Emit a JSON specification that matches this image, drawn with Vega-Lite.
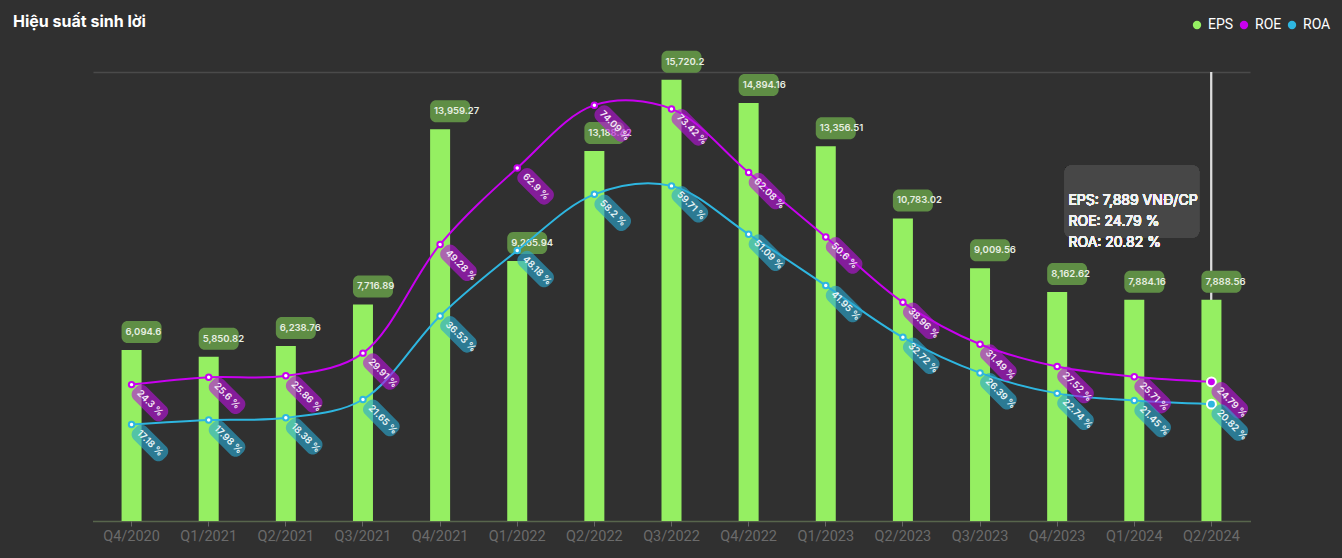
{
  "$schema": "https://vega.github.io/schema/vega-lite/v6.json",
  "width": 1157,
  "height": 449,
  "autosize": {"type": "none"},
  "padding": {"left": 93, "top": 72, "right": 92, "bottom": 37},
  "background": "#303030",
  "title": {
    "text": "Hiệu suất sinh lời",
    "anchor": "start",
    "frame": "group",
    "dx": -80,
    "offset": -20,
    "baseline": "middle",
    "font": "Inter",
    "fontSize": 16,
    "fontWeight": "bold",
    "color": "#ffffff"
  },
  "config": {
    "view": {"stroke": null},
    "font": "Roboto"
  },
  "data": {
    "values": [
      {"q": "Q4/2020", "EPS": 6094.6, "ROE": 24.3, "ROA": 17.18},
      {"q": "Q1/2021", "EPS": 5850.82, "ROE": 25.6, "ROA": 17.98},
      {"q": "Q2/2021", "EPS": 6238.76, "ROE": 25.86, "ROA": 18.38},
      {"q": "Q3/2021", "EPS": 7716.89, "ROE": 29.91, "ROA": 21.65},
      {"q": "Q4/2021", "EPS": 13959.27, "ROE": 49.28, "ROA": 36.53},
      {"q": "Q1/2022", "EPS": 9265.94, "ROE": 62.9, "ROA": 48.18},
      {"q": "Q2/2022", "EPS": 13188.42, "ROE": 74.09, "ROA": 58.2},
      {"q": "Q3/2022", "EPS": 15720.2, "ROE": 73.42, "ROA": 59.71},
      {"q": "Q4/2022", "EPS": 14894.16, "ROE": 62.08, "ROA": 51.09},
      {"q": "Q1/2023", "EPS": 13356.51, "ROE": 50.6, "ROA": 41.95},
      {"q": "Q2/2023", "EPS": 10783.02, "ROE": 38.96, "ROA": 32.72},
      {"q": "Q3/2023", "EPS": 9009.56, "ROE": 31.49, "ROA": 26.39},
      {"q": "Q4/2023", "EPS": 8162.62, "ROE": 27.52, "ROA": 22.74},
      {"q": "Q1/2024", "EPS": 7884.16, "ROE": 25.71, "ROA": 21.45},
      {"q": "Q2/2024", "EPS": 7888.56, "ROE": 24.79, "ROA": 20.82}
    ]
  },
  "encoding": {
    "x": {
      "field": "q",
      "type": "nominal",
      "sort": null,
      "scale": {"domain": ["Q4/2020", "Q1/2021", "Q2/2021", "Q3/2021", "Q4/2021", "Q1/2022", "Q2/2022", "Q3/2022", "Q4/2022", "Q1/2023", "Q2/2023", "Q3/2023", "Q4/2023", "Q1/2024", "Q2/2024"], "paddingInner": 0, "paddingOuter": 0},
      "axis": {
        "title": null,
        "labelAngle": 0,
        "labelColor": "#6b6b6b",
        "labelFontSize": 14.5,
        "labelFont": "Roboto",
        "labelPadding": 3,
        "tickColor": "#666666",
        "tickSize": 5,
        "domainColor": "#7e9a68",
        "domainDash": [1, 1],
        "domainWidth": 1.5
      }
    }
  },
  "layer": [
    {
      "mark": {"type": "rule", "color": "#dddddd", "strokeWidth": 1.2},
      "encoding": {"x": {"datum": "Q2/2024"}}
    },
    {
      "mark": {"type": "bar", "width": 20},
      "encoding": {
        "y": {
          "field": "EPS",
          "type": "quantitative",
          "scale": {"domain": [0, 16000], "nice": false, "zero": true},
          "axis": {"values": [16000], "grid": true, "gridColor": "#4a4a4a", "gridWidth": 1.5, "labels": false, "ticks": false, "domain": false, "title": null}
        },
        "color": {
          "datum": "EPS",
          "scale": {"domain": ["EPS", "ROE", "ROA"], "range": ["#95ef62", "#c800f0", "#2eb6e0"]},
          "legend": {
            "title": null,
            "orient": "none",
            "legendX": 1097,
            "legendY": -54,
            "direction": "horizontal",
            "symbolType": "circle",
            "symbolSize": 70,
            "labelColor": "#ffffff",
            "labelFontSize": 14,
            "labelFont": "Roboto",
            "labelOffset": 4,
            "columnPadding": 3,
            "symbolStrokeWidth": 0,
            "encode": {"symbols": {"update": {"fill": {"scale": "color", "field": "value"}, "fillOpacity": {"value": 1}, "strokeWidth": {"value": 0}}}}
          }
        }
      }
    },
    {
      "mark": {"type": "point", "shape": "M -4 -29 L 24 -29 A 6 6 0 0 1 30 -23 L 30 -13 A 6 6 0 0 1 24 -7 L -4 -7 A 6 6 0 0 1 -10 -13 L -10 -23 A 6 6 0 0 1 -4 -29 Z", "size": 4, "filled": true, "color": "#5f8e45", "opacity": 1},
      "encoding": {
        "y": {"field": "EPS", "type": "quantitative", "scale": {"domain": [0, 16000], "nice": false}, "axis": null}
      }
    },
    {
      "mark": {"type": "text", "align": "left", "baseline": "middle", "dx": -6, "dy": -18, "fontSize": 9.5, "fontWeight": 600, "color": "#e8efe2", "font": "Inter"},
      "encoding": {
        "y": {"field": "EPS", "type": "quantitative", "scale": {"domain": [0, 16000], "nice": false}, "axis": null},
        "text": {"field": "EPS", "type": "quantitative", "format": ",.2~f"}
      }
    },
    {
      "mark": {"type": "line", "interpolate": "catmull-rom", "strokeWidth": 2},
      "encoding": {
        "y": {"field": "ROE", "type": "quantitative", "scale": {"domain": [0, 80], "nice": false}, "axis": null},
        "color": {"datum": "ROE"}
      }
    },
    {
      "mark": {"type": "line", "interpolate": "catmull-rom", "strokeWidth": 2},
      "encoding": {
        "y": {"field": "ROA", "type": "quantitative", "scale": {"domain": [0, 80], "nice": false}, "axis": null},
        "color": {"datum": "ROA"}
      }
    },
    {
      "transform": [{"filter": "datum.q != 'Q2/2024'"}],
      "mark": {"type": "point", "filled": true, "fill": "#ffffff", "stroke": "#c800f0", "strokeWidth": 2, "size": 30, "opacity": 1},
      "encoding": {
        "y": {"field": "ROE", "type": "quantitative", "scale": {"domain": [0, 80], "nice": false}, "axis": null}
      }
    },
    {
      "transform": [{"filter": "datum.q != 'Q2/2024'"}],
      "mark": {"type": "point", "filled": true, "fill": "#ffffff", "stroke": "#2eb6e0", "strokeWidth": 2, "size": 30, "opacity": 1},
      "encoding": {
        "y": {"field": "ROA", "type": "quantitative", "scale": {"domain": [0, 80], "nice": false}, "axis": null}
      }
    },
    {
      "transform": [{"filter": "datum.q == 'Q2/2024'"}],
      "mark": {"type": "point", "filled": true, "fill": "#c800f0", "stroke": "#ffffff", "strokeWidth": 2, "size": 80, "opacity": 1},
      "encoding": {
        "y": {"field": "ROE", "type": "quantitative", "scale": {"domain": [0, 80], "nice": false}, "axis": null}
      }
    },
    {
      "transform": [{"filter": "datum.q == 'Q2/2024'"}],
      "mark": {"type": "point", "filled": true, "fill": "#2eb6e0", "stroke": "#ffffff", "strokeWidth": 2, "size": 80, "opacity": 1},
      "encoding": {
        "y": {"field": "ROA", "type": "quantitative", "scale": {"domain": [0, 80], "nice": false}, "axis": null}
      }
    },
    {
      "mark": {"type": "point", "shape": "M 12 -9 L 40 -9 A 7 7 0 0 1 47 -2 L 47 2 A 7 7 0 0 1 40 9 L 12 9 A 7 7 0 0 1 5 2 L 5 -2 A 7 7 0 0 1 12 -9 Z", "size": 4, "angle": 45, "filled": true, "color": "#b812dc", "opacity": 0.62},
      "encoding": {
        "y": {"field": "ROE", "type": "quantitative", "scale": {"domain": [0, 80], "nice": false}, "axis": null}
      }
    },
    {
      "mark": {"type": "text", "angle": 45, "align": "left", "baseline": "middle", "dx": 10, "fontSize": 9.5, "fontWeight": 600, "color": "#f4eaf6", "font": "Inter", "text": {"expr": "datum.ROE + ' %'"}},
      "encoding": {
        "y": {"field": "ROE", "type": "quantitative", "scale": {"domain": [0, 80], "nice": false}, "axis": null}
      }
    },
    {
      "mark": {"type": "point", "shape": "M 12 -9 L 40 -9 A 7 7 0 0 1 47 -2 L 47 2 A 7 7 0 0 1 40 9 L 12 9 A 7 7 0 0 1 5 2 L 5 -2 A 7 7 0 0 1 12 -9 Z", "size": 4, "angle": 45, "filled": true, "color": "#2aa8d0", "opacity": 0.62},
      "encoding": {
        "y": {"field": "ROA", "type": "quantitative", "scale": {"domain": [0, 80], "nice": false}, "axis": null}
      }
    },
    {
      "mark": {"type": "text", "angle": 45, "align": "left", "baseline": "middle", "dx": 10, "fontSize": 9.5, "fontWeight": 600, "color": "#eaf6f8", "font": "Inter", "text": {"expr": "datum.ROA + ' %'"}},
      "encoding": {
        "y": {"field": "ROA", "type": "quantitative", "scale": {"domain": [0, 80], "nice": false}, "axis": null}
      }
    },
    {
      "mark": {"type": "point", "shape": "M -139 93 L -20 93 A 8 8 0 0 1 -12 101 L -12 158 A 8 8 0 0 1 -20 166 L -139 166 A 8 8 0 0 1 -147 158 L -147 101 A 8 8 0 0 1 -139 93 Z", "size": 4, "filled": true, "color": "#474747", "opacity": 0.97},
      "encoding": {
        "x": {"datum": "Q2/2024"},
        "y": {"datum": 16000, "scale": {"domain": [0, 16000], "nice": false}, "axis": null}
      }
    },
    {
      "mark": {"type": "text", "align": "left", "baseline": "middle", "dx": -143, "dy": 129, "lineHeight": 21, "fontSize": 14, "color": "#f2f2f2", "font": "Inter", "text": ["EPS: 7,889 VNĐ/CP", "ROE: 24.79 %", "ROA: 20.82 %"]},
      "encoding": {
        "x": {"datum": "Q2/2024"},
        "y": {"datum": 16000, "scale": {"domain": [0, 16000], "nice": false}, "axis": null}
      }
    }
  ],
  "resolve": {"scale": {"y": "independent"}, "axis": {"y": "independent"}}
}
